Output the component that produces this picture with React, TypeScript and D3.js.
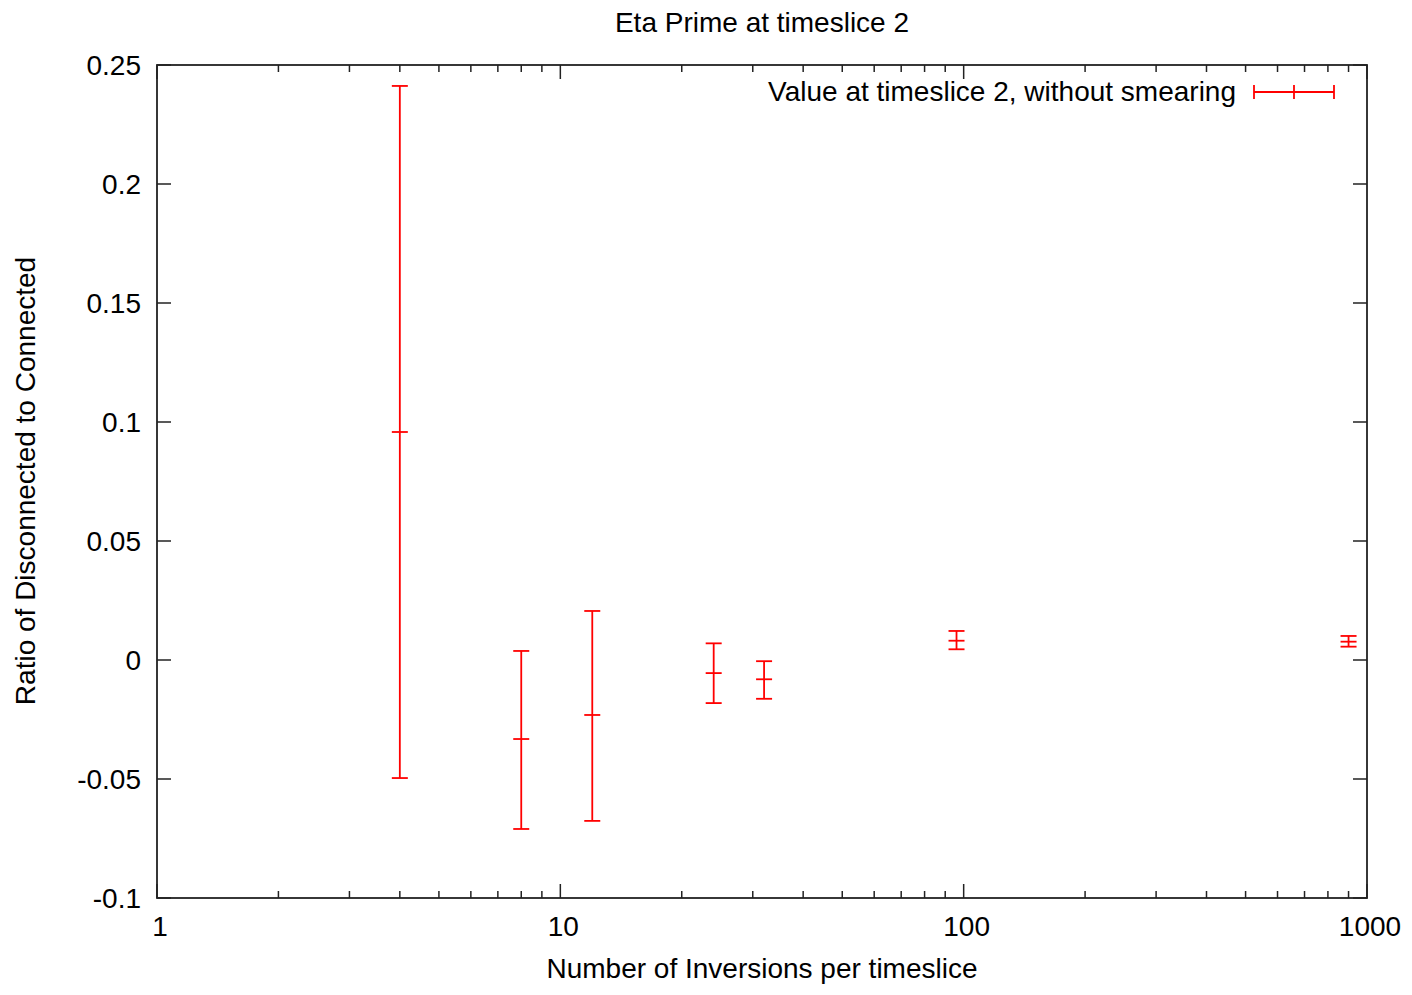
import React from "react";
import { scaleLog, scaleLinear, range } from "d3";

const red = "#ff0000";

// inversions per timeslice
const inversions = [4, 8, 12, 24, 32, 96, 900];
const ratio = [0.0958, -0.0332, -0.0231, -0.0055, -0.0081, 0.0081, 0.0077];
const ratioLow = [-0.0496, -0.071, -0.0676, -0.0181, -0.0163, 0.0045, 0.0056];
const ratioHigh = [0.2412, 0.0038, 0.0206, 0.007, -0.0005, 0.0122, 0.0101];

const yTicks = [-0.1, -0.05, 0, 0.05, 0.1, 0.15, 0.2, 0.25];
const yTickLabels = ["-0.1", "-0.05", "0", "0.05", "0.1", "0.15", "0.2", "0.25"];
const xTicks = [1, 10, 100, 1000];
const xTickLabels = ["1", "10", "100", "1000"];

const W = 1412;
const H = 995;
const left = 157;
const right = 1367;
const top = 65;
const bottom = 898;

const font = "Liberation Sans, Arial, sans-serif";
const fs = 28;

export default function App() {
  const x = scaleLog().domain([1, 1000]).range([left, right]);
  const y = scaleLinear().domain([-0.1, 0.25]).range([bottom, top]);

  const minor: number[] = [];
  [1, 10, 100].forEach(d => range(2, 10).forEach(m => minor.push(d * m)));

  const cap = 8;
  const major = 14;
  const minorLen = 7;

  return (
    <svg width={W} height={H} style={{ position: "absolute", left: 0, top: 0 }} fontFamily={font}>
      <rect width={W} height={H} fill="#fff" />
      <text x={762} y={32} textAnchor="middle" fontSize={fs}>Eta Prime at timeslice 2</text>

      {/* y ticks */}
      {yTicks.map((t, i) => (
        <g key={"y" + i}>
          <line x1={left} x2={left + major} y1={y(t)} y2={y(t)} stroke="#222" strokeWidth={1.5} />
          <line x1={right} x2={right - major} y1={y(t)} y2={y(t)} stroke="#222" strokeWidth={1.5} />
          <text x={left - 16} y={y(t) + 10} textAnchor="end" fontSize={fs}>{yTickLabels[i]}</text>
        </g>
      ))}

      {/* x ticks */}
      {xTicks.map((t, i) => (
        <g key={"x" + i}>
          <line x1={x(t)} x2={x(t)} y1={bottom} y2={bottom - major} stroke="#222" strokeWidth={1.5} />
          <line x1={x(t)} x2={x(t)} y1={top} y2={top + major} stroke="#222" strokeWidth={1.5} />
          <text x={x(t) + 3} y={bottom + 38} textAnchor="middle" fontSize={fs}>{xTickLabels[i]}</text>
        </g>
      ))}
      {minor.map((t, i) => (
        <g key={"m" + i}>
          <line x1={x(t)} x2={x(t)} y1={bottom} y2={bottom - minorLen} stroke="#222" strokeWidth={1.5} />
          <line x1={x(t)} x2={x(t)} y1={top} y2={top + minorLen} stroke="#222" strokeWidth={1.5} />
        </g>
      ))}

      <rect x={left} y={top} width={right - left} height={bottom - top} fill="none" stroke="#222" strokeWidth={1.8} />

      {/* error bars */}
      {inversions.map((d, i) => {
        const cx = x(d);
        return (
          <g key={"e" + i} stroke={red} strokeWidth={1.8}>
            <line x1={cx} x2={cx} y1={y(ratioLow[i])} y2={y(ratioHigh[i])} />
            <line x1={cx - cap} x2={cx + cap} y1={y(ratioLow[i])} y2={y(ratioLow[i])} />
            <line x1={cx - cap} x2={cx + cap} y1={y(ratioHigh[i])} y2={y(ratioHigh[i])} />
            <line x1={cx - cap} x2={cx + cap} y1={y(ratio[i])} y2={y(ratio[i])} />
          </g>
        );
      })}

      {/* legend */}
      <text x={1236} y={101} textAnchor="end" fontSize={fs}>Value at timeslice 2, without smearing</text>
      <g stroke={red} strokeWidth={1.8}>
        <line x1={1254} x2={1334} y1={92} y2={92} />
        <line x1={1254} x2={1254} y1={85} y2={99} />
        <line x1={1334} x2={1334} y1={85} y2={99} />
        <line x1={1294} x2={1294} y1={85} y2={99} />
      </g>

      <text x={762} y={978} textAnchor="middle" fontSize={fs}>Number of Inversions per timeslice</text>
      <text transform="translate(35,481) rotate(-90)" textAnchor="middle" fontSize={fs}>Ratio of Disconnected to Connected</text>
    </svg>
  );
}
